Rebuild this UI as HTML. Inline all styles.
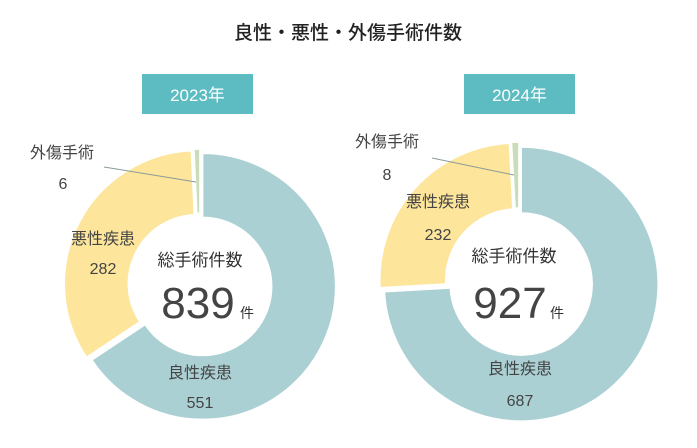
<!DOCTYPE html>
<html><head><meta charset="utf-8">
<style>
html,body{margin:0;padding:0;background:#fff;}
body{width:697px;height:443px;overflow:hidden;font-family:"Liberation Sans","Noto Sans CJK JP",sans-serif;}
svg text{font-family:"Liberation Sans","Noto Sans CJK JP",sans-serif;}
</style></head><body>
<svg id="chart" width="697" height="443" viewBox="0 0 697 443">
<text x="348" y="39" text-anchor="middle" font-size="19" fill="#222" font-weight="500">良性・悪性・外傷手術件数</text>
</svg>
<script>
const years = ["2023年","2024年"];
const categories = ["良性疾患","悪性疾患","外傷手術"];
const values2023 = [551,282,6];
const values2024 = [687,232,8];
const totals = [839,927];
const colors = ["#abd0d4","#fde59b","#c8ddb8"];

const layouts = [
 {cx:200,cy:285,R:133,r:69,box:[142,74,111,40],
  lbl:[[200,378,200,408],[103,244,103,274],[62,158,63,189]],line:[104,167,196,182],
  title:[200,266],num:[198,318],ken:[247,318]},
 {cx:519,cy:282,R:137,r:71,box:[464,74,111,40],
  lbl:[[520,374,520,406],[438,207,438,240],[387,147,387,180]],line:[432,158,514,175],
  title:[514,262],num:[510,318],ken:[557,318]}
];
const svg=document.getElementById('chart');
const NS="http://www.w3.org/2000/svg";
function mk(t,a){const e=document.createElementNS(NS,t);for(const k in a)e.setAttribute(k,a[k]);svg.appendChild(e);return e;}
function pt(cx,cy,rad,ang){return [cx+rad*Math.sin(ang),cy-rad*Math.cos(ang)];}
[values2023,values2024].forEach((vals,i)=>{
 const L=layouts[i];
 const b=mk('rect',{x:L.box[0],y:L.box[1],width:L.box[2],height:L.box[3],fill:"#5cbcc2"});
 
 
 const bt=mk('text',{x:L.box[0]+L.box[2]/2,y:L.box[1]+27,'text-anchor':'middle','font-size':17,fill:'#fff'});
 bt.textContent=years[i];
 
 
 const sum=vals.reduce((a,c)=>a+c,0);
 let a0=0;
 vals.forEach((v,j)=>{
  const a1=a0+v/sum*2*Math.PI;
  const mid=(a0+a1)/2, off=3;
  const cx=L.cx+off*Math.sin(mid), cy=L.cy-off*Math.cos(mid);
  const g=a1-a0>Math.PI?1:0;
  const p1=pt(cx,cy,L.R,a0),p2=pt(cx,cy,L.R,a1),p3=pt(cx,cy,L.r,a1),p4=pt(cx,cy,L.r,a0);
  const d=`M${p1}A${L.R},${L.R} 0 ${g} 1 ${p2}L${p3}A${L.r},${L.r} 0 ${g} 0 ${p4}Z`;
  const s=mk('path',{d:d,fill:colors[j],stroke:'#fff','stroke-width':1.5});
  
  
  a0=a1;
 });
 const ln=mk('line',{x1:L.line[0],y1:L.line[1],x2:L.line[2],y2:L.line[3],stroke:'#8a9a9a','stroke-width':1});
 
 
 categories.forEach((c,j)=>{
  const q=L.lbl[j];
  const t1=mk('text',{x:q[0],y:q[1],'text-anchor':'middle','font-size':16,fill:'#444'});
  t1.textContent=c;
  
  
  const t2=mk('text',{x:q[2],y:q[3],'text-anchor':'middle','font-size':16,fill:'#444'});
  t2.textContent=vals[j];
  
  
 });
 const tt=mk('text',{x:L.title[0],y:L.title[1],'text-anchor':'middle','font-size':17,fill:'#333'});
 tt.textContent="総手術件数";
 
 
 const tn=mk('text',{x:L.num[0],y:L.num[1],'text-anchor':'middle','font-size':44,fill:'#444'});
 tn.textContent=totals[i];
 
 
 const tk=mk('text',{x:L.ken[0],y:L.ken[1],'text-anchor':'middle','font-size':14,fill:'#333'});
 tk.textContent="件";
 
 
});
</script>
</body></html>
